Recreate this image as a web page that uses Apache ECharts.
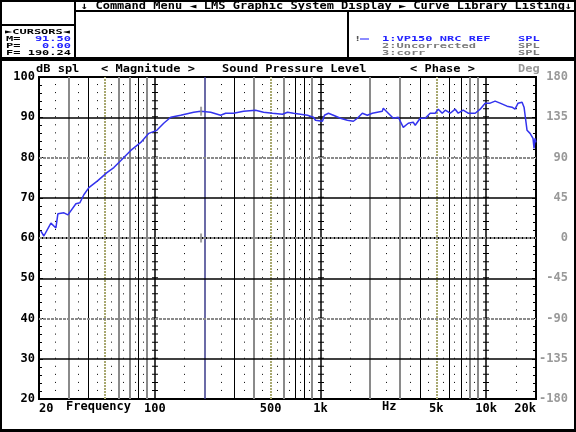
<!DOCTYPE html>
<html><head><meta charset="utf-8">
<script src="https://cdn.jsdelivr.net/npm/echarts@6/dist/echarts.min.js"></script>
<style>html,body{margin:0;padding:0;background:#fff}#c{width:576px;height:432px}</style>
</head><body><div id="c"></div>
<script>
// ---- data ----
const freqHz = [20.5,21.4,23.6,25.3,26.0,28.3,29.9,30.7,33.4,35.3,37.3,40.0,45.3,51.4,56.6,62.4,71.6,82.3,92.0,102.8,113.2,124.8,143.3,171.7,189.2,217.4,249.6,267.7,299,343.6,405.8,453.3,513.6,590,632.5,687.5,757,834,907,933,1028,1057,1117,1197,1319,1453,1580,1670,1790,1918,2056,2361,2394,2531,2752,2951,3162,3389,3631,3733,4000,4287,4594,4925,5141,5434,5666,6071,6506,6783,7269,7790,8593,9207,9866,10572,11330,12140,13370,14330,14940,15590,16480,16940,17660,18410,19190,19460,19730,20000];
const splDb = [61.75,60.5,63.7,62.5,66,66.25,65.75,65.75,68.5,68.75,70.75,72.5,74.25,76.25,77.5,79.25,81.75,83.75,86,86.75,88.5,90,90.5,91.25,91.5,91.25,90.5,91,91,91.5,91.75,91.25,91,90.75,91.25,91,90.75,90.5,90,89.25,89,90.5,91,90.5,89.75,89.25,89,89.75,91,90.5,91,91.5,92.25,91.25,89.75,90,87.5,88.5,88.75,88,89.75,89.75,91,91,92,91,91.75,91,92,91,91.75,91,91,92,93.5,93.5,94,93.5,92.75,92.5,92,93.5,93.75,92.5,86.75,86,84.75,82.25,84.75,83.75];
const xTickFreq = [20,100,500,1000,5000,10000,20000];
const xTickText = ['20','100','500','1k','5k','10k','20k'];
const gridBlackFreq = [40,80,300,700,800,4000,6000,7000];
const gridGrayFreq = [30,60,70,90,400,600,900,2000,3000,8000,9000];
const gridYellowFreq = [50,500,5000];
const gridBlueFreq = [200];
const decadeFreq = [100,1000,10000];
const minorDotFreq = [25,35,45,55,65,75,85,150,250,350,450,550,650,750,850,1500,2500,3500,4500,5500,6500,7500,8500,15000];
const dbBlack = [30,50,70,90];
const dbGray = [40,60,80];
const cursorF = 190.24, cursorM = 91.50, cursorP = 0.00;

const L = Math.log10;
const FONT = '"DejaVu Sans Mono", "Liberation Mono", monospace';
const BLUE = '#2222ff';
const GRAY = '#8a8a8a';

const vLine = (f, style) => ({xAxis: L(f), lineStyle: style});
const hLine = (v, style) => ({yAxis: v, lineStyle: style});
const gridLines = []
  .concat(minorDotFreq.map(f => vLine(f, {color:'#000', width:1, type:[1,7.05]})))
  .concat(gridGrayFreq.map(f => vLine(f, {color:GRAY, width:2, type:'solid'})))
  .concat(gridYellowFreq.map(f => vLine(f, {color:'#a8a870', width:2, type:[2,1]})))
  .concat(gridBlueFreq.map(f => vLine(f, {color:'#3a3a8a', width:1.5, type:'solid'})))
  .concat(gridBlackFreq.map(f => vLine(f, {color:'#000', width:1, type:'solid'})))
  .concat(decadeFreq.map(f => vLine(f, {color:'#000', width:1.5, type:'solid'})))
  .concat(decadeFreq.map(f => vLine(f, {color:'#000', width:6, type:[1,7.05]})))
  .concat(dbGray.map(v => hLine(v, {color:GRAY, width:2, type:[3,1]})))
  .concat(dbBlack.map(v => hLine(v, {color:'#000', width:1.5, type:'solid'})));

const txt = (text, x, y, color, sy, align) => ({
  type:'text', x:x, y:y, scaleY:sy || 0.8, z:10,
  style:{text:text, x:0, y:0, fill:color||'#000', font:'bold 12px ' + FONT, textAlign:align||'left', textVerticalAlign:'middle'}
});
const box = (x, y, w, h) => ({type:'rect', shape:{x:x,y:y,width:w,height:h}, style:{fill:'none', stroke:'#000', lineWidth:2}, z:9});
const S = 0.64;

const chart = echarts.init(document.getElementById('c'), null, {renderer:'canvas'});
chart.setOption({
  animation:false,
  backgroundColor:'#fff',
  grid:{left:39, top:77, width:497, height:322, show:true, borderColor:'#000', borderWidth:2, backgroundColor:'transparent'},
  xAxis:{type:'value', min:L(20), max:L(20000), splitLine:{show:false}, axisTick:{show:false},
    axisLine:{lineStyle:{color:'#000', width:2}},
    axisLabel:{customValues:xTickFreq.map(L), margin:4, color:'#000', fontWeight:'bold', fontSize:12, fontFamily:FONT,
      alignMinLabel:'left', alignMaxLabel:'right',
      formatter:v => { const i = xTickFreq.findIndex(f => Math.abs(L(f)-v) < 1e-6); return i >= 0 ? xTickText[i] : ''; }}},
  yAxis:[
    {type:'value', position:'left', min:20, max:100, interval:10, splitLine:{show:false},
      axisLine:{show:true, lineStyle:{color:'#000', width:2}},
      axisTick:{show:true, inside:true, length:4, lineStyle:{color:'#000'}},
      minorTick:{show:true, splitNumber:5, length:3, lineStyle:{color:'#000'}},
      axisLabel:{margin:4, color:'#000', fontWeight:'bold', fontSize:12, fontFamily:FONT}},
    {type:'value', position:'right', min:-180, max:180, interval:45, splitLine:{show:false},
      axisLine:{show:true, lineStyle:{color:'#000', width:2}},
      axisTick:{show:true, inside:true, length:4, lineStyle:{color:'#000'}},
      minorTick:{show:true, splitNumber:5, length:3, lineStyle:{color:'#000'}},
      axisLabel:{margin:32, align:'right', color:'#999', fontWeight:'bold', fontSize:12, fontFamily:FONT}}
  ],
  series:[
    {type:'line', data:[], z:1, silent:true,
      markLine:{silent:true, symbol:['none','none'], label:{show:false}, animation:false, data:gridLines}},
    {type:'line', name:'VP150 NRC REF', data:freqHz.map((f,i) => [L(f), splDb[i]]), showSymbol:false, z:5,
      lineStyle:{color:'#3333ee', width:1.5}},
    {type:'scatter', yAxisIndex:0, data:[[L(cursorF), cursorM]], symbol:'rect', symbolSize:[2,9], itemStyle:{color:'#888'}, z:6},
    {type:'scatter', yAxisIndex:1, data:[[L(cursorF), cursorP]], symbol:'rect', symbolSize:[2,9], itemStyle:{color:'#888'}, z:6}
  ],
  graphic:[
    box(1,1,74,24), box(1,25,74,33), box(75,1,500,10), box(75,11,273,47), box(348,11,227,47),
    box(1,60,574,370),
    {type:'rect', shape:{x:0,y:429,width:576,height:3}, style:{fill:'#000'}, z:9},
    txt('↓ Command Menu ◄ LMS Graphic System Display ► Curve Library Listing↓', 81, 6, '#000', 0.8),
    txt('►CURSORS◄', 5, 32, '#000', S),
    txt('M=', 6, 39, '#000', S), txt('P=', 6, 46, '#000', S), txt('F=', 6, 53, '#000', S),
    txt(cursorM.toFixed(2), 71, 39, BLUE, S, 'right'),
    txt(cursorP.toFixed(2), 71, 46, BLUE, S, 'right'),
    txt(cursorF.toFixed(2), 71, 53, '#000', S, 'right'),
    txt('!', 354, 39, '#555', S),
    {type:'line', shape:{x1:360,y1:39,x2:369,y2:39}, style:{stroke:'#6666ff', lineWidth:1.5}, z:10},
    txt('1:VP150 NRC REF', 382, 39, BLUE, S), txt('SPL', 518, 39, BLUE, S),
    txt('2:Uncorrected', 382, 46, '#7a7a7a', S), txt('SPL', 518, 46, '#7a7a7a', S),
    txt('3:corr', 382, 53, '#7a7a7a', S), txt('SPL', 518, 53, '#7a7a7a', S),
    txt('dB spl', 36, 69), txt('< Magnitude >', 101, 69), txt('Sound Pressure Level', 222, 69),
    txt('< Phase >', 410, 69), txt('Deg', 518, 69, '#999'),
    txt('Frequency', 66, 407, '#000', 1), txt('Hz', 382, 407, '#000', 1)
  ]
});
</script></body></html>
